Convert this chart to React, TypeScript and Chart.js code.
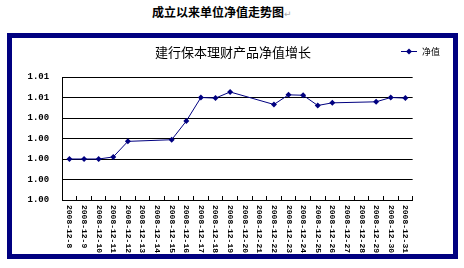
import React, { useEffect, useRef } from "react";
import { Chart, registerables } from "chart.js";

Chart.register(...registerables);

const docTitle = "成立以来单位净值走势图";
const chartTitle = "建行保本理财产品净值增长";
const seriesName = "净值";

const categories = [
  "2008-12-8", "2008-12-9", "2008-12-10", "2008-12-11", "2008-12-12", "2008-12-13",
  "2008-12-14", "2008-12-15", "2008-12-16", "2008-12-17", "2008-12-18", "2008-12-19",
  "2008-12-20", "2008-12-21", "2008-12-22", "2008-12-23", "2008-12-24", "2008-12-25",
  "2008-12-26", "2008-12-27", "2008-12-28", "2008-12-29", "2008-12-30", "2008-12-31",
];

const navValues: (number | null)[] = [
  1.002, 1.002, 1.002, 1.0021, 1.00286, null,
  null, 1.00294, 1.00385, 1.005, 1.00497, 1.00527,
  null, null, 1.00466, 1.00513, 1.00511, 1.00461,
  1.00474, null, null, 1.00479, 1.005, 1.00497,
];

const yMin = 1.0;
const yMax = 1.006;
const yStep = 0.001;

const NAVY = "#000080";

const titleLegendPlugin = {
  id: "titleLegend",
  afterDraw(chart: any) {
    const ctx = chart.ctx as CanvasRenderingContext2D;
    ctx.save();
    ctx.fillStyle = "#000";
    ctx.font = "13px 'Noto Sans CJK SC'";
    ctx.textAlign = "center";
    ctx.textBaseline = "middle";
    ctx.fillText(chartTitle, 221, 14);
    // legend
    const ly = 13.5;
    ctx.strokeStyle = NAVY;
    ctx.lineWidth = 1;
    ctx.beginPath();
    ctx.moveTo(389, ly);
    ctx.lineTo(405, ly);
    ctx.stroke();
    ctx.fillStyle = NAVY;
    ctx.beginPath();
    ctx.moveTo(397, ly - 3);
    ctx.lineTo(400, ly);
    ctx.lineTo(397, ly + 3);
    ctx.lineTo(394, ly);
    ctx.closePath();
    ctx.fill();
    ctx.fillStyle = "#000";
    ctx.font = "9px 'Noto Sans CJK SC'";
    ctx.textAlign = "left";
    ctx.fillText(seriesName, 410, ly);
    ctx.restore();
  },
};

function NavChart() {
  const ref = useRef<HTMLCanvasElement>(null);
  useEffect(() => {
    if (!ref.current) return;
    const chart = new Chart(ref.current, {
      type: "line",
      data: {
        labels: categories,
        datasets: [
          {
            label: seriesName,
            data: navValues,
            borderColor: NAVY,
            backgroundColor: NAVY,
            borderWidth: 1,
            pointStyle: "rectRot",
            pointRadius: 3,
            pointBackgroundColor: NAVY,
            pointBorderColor: NAVY,
            pointBorderWidth: 0,
            tension: 0,
            spanGaps: true,
            fill: false,
          },
        ],
      },
      options: {
        animation: false,
        responsive: false,
        devicePixelRatio: 1,
        layout: { padding: { top: 39, right: 12, left: 0, bottom: 0 } },
        plugins: {
          legend: { display: false },
          title: { display: false },
          tooltip: { enabled: false },
        },
        scales: {
          x: {
            type: "category",
            offset: true,
            border: { display: true, color: "#000", width: 1 },
            grid: {
              display: true,
              drawOnChartArea: false,
              drawTicks: true,
              tickLength: -4,
              color: "#000",
              offset: true,
            },
            ticks: {
              autoSkip: false,
              minRotation: -90,
              maxRotation: -90,
              padding: 57,
              color: "#000",
              font: { family: "'Liberation Mono'", size: 8, weight: "bold" },
              callback: (_v: any, i: number) => categories[i].padEnd(10, " "),
            },
            afterFit: (s: any) => {
              s.height = 54;
            },
          },
          y: {
            min: yMin,
            max: yMax,
            border: { display: true, color: "#000", width: 1 },
            grid: { color: "#000", lineWidth: 1, drawTicks: false },
            ticks: {
              stepSize: yStep,
              padding: 13,
              color: "#000",
              font: { family: "'Liberation Mono'", size: 9, weight: "bold" },
              callback: (v: any) => (Math.round(Number(v) * 100 + 1e-6) / 100).toFixed(2),
            },
            afterFit: (s: any) => {
              s.width = 50;
            },
          },
        },
      },
      plugins: [titleLegendPlugin],
    });
    return () => chart.destroy();
  }, []);
  return <canvas ref={ref} width={441} height={216} style={{ display: "block", width: 441, height: 216 }} />;
}

export default function App() {
  return (
    <div style={{ position: "absolute", left: 0, top: 0, width: 464, height: 268, background: "#fff", overflow: "hidden" }}>
      <div
        style={{
          position: "absolute",
          left: 152,
          top: 5,
          font: "bold 12px 'Noto Sans CJK SC'",
          lineHeight: "14px",
          whiteSpace: "nowrap",
          color: "#000",
        }}
      >
        {docTitle}
        <span style={{ color: "#aaa", fontWeight: "normal", fontSize: 9, fontFamily: "'DejaVu Sans'" }}>↵</span>
      </div>
      <div
        style={{
          position: "absolute",
          left: 7,
          top: 33,
          width: 441,
          height: 216,
          border: "5px solid " + NAVY,
          background: "#fff",
        }}
      >
        <NavChart />
      </div>
    </div>
  );
}
